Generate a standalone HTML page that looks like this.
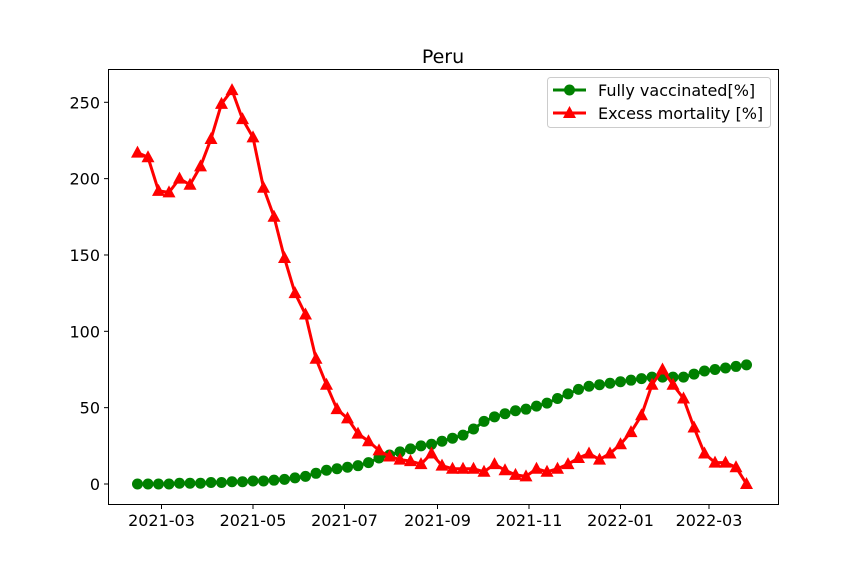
<!DOCTYPE html>
<html><head><meta charset="utf-8"><style>
html,body{margin:0;padding:0;background:#fff;}
svg{display:block;font-family:"DejaVu Sans","Liberation Sans",sans-serif;}
</style></head><body>
<svg id="chart" width="864" height="576">
<rect width="864" height="576" fill="#fff"/>
<text x="443" y="63" font-size="19" text-anchor="middle">Peru</text>
<g id="grid"></g>
<g id="series"></g>
<rect x="108.5" y="69.5" width="670" height="435" fill="none" stroke="#000" stroke-width="1"/>
<g>
<rect x="547.5" y="77.5" width="223" height="50" rx="3" fill="#fff" stroke="#ccc"/>
<g>
<line x1="553" y1="90" x2="586" y2="90" stroke="green" stroke-width="3"/>
<circle cx="569.5" cy="90" r="5.5" fill="green"/>
<text x="598" y="96" font-size="16">Fully vaccinated[%]</text></g>
<g>
<line x1="553" y1="113" x2="586" y2="113" stroke="red" stroke-width="3"/>
<polygon points="569.5,106 576,118 563,118" fill="red"/>
<text x="598" y="119" font-size="16">Excess mortality [%]</text></g>
</g>
</svg>
<script>
const vaccinated = [0,0,0,0,0.5,0.5,0.5,1,1,1.5,1.5,2,2,2.5,3,4,5,7,9,10,11,12,14,17,19,21,23,25,26,28,30,32,36,41,44,46,48,49,51,53,56,59,62,64,65,66,67,68,69,70,70,70,70,72,74,75,76,77,78];
const mortality = [217,214,192,191,200,196,208,226,249,258,239,227,194,175,148,125,111,82,65,49,43,33,28,22,18,16,15,13,20,12,10,10,10,8,13,9,6,5,10,8,10,13,17,20,16,20,26,34,45,65,75,65,56,37,20,14,14,11,0];
const yTicks = [0,50,100,150,200,250];
const xTickLabels = ["2021-03","2021-05","2021-07","2021-09","2021-11","2022-01","2022-03"];
const xTickDays = [0,61,122,184,245,306,365];
const firstDay = -16;
const stepDays = 7;

const NS="http://www.w3.org/2000/svg";
function X(day){return 161.5 + day*1.5;}
function Y(v){return 484 - v*1.5268;}
function mk(tag,attrs,parent){const e=document.createElementNS(NS,tag);for(const k in attrs)e.setAttribute(k,attrs[k]);parent.appendChild(e);return e;}
const grid=document.getElementById('grid');
const ser=document.getElementById('series');
yTicks.forEach(v=>{
  const g=mk('g',{},grid);
  
  
  mk('line',{x1:104,x2:108.5,y1:Y(v),y2:Y(v),stroke:'#000'},g);
  const t=mk('text',{x:100,y:Y(v)+6,'font-size':16,'text-anchor':'end'},g);t.textContent=v;
});
xTickDays.forEach((d,i)=>{
  const g=mk('g',{},grid);
  
  
  mk('line',{x1:X(d),x2:X(d),y1:504.5,y2:509,stroke:'#000'},g);
  const t=mk('text',{x:X(d),y:526,'font-size':16,'text-anchor':'middle'},g);t.textContent=xTickLabels[i];
});
function series(vals,color,marker,name){
  const g=mk('g',{},ser);
  
  
  const pts=vals.map((v,i)=>[X(firstDay+i*stepDays),Y(v)]);
  mk('polyline',{points:pts.map(p=>p.join(',')).join(' '),fill:'none',stroke:color,'stroke-width':3,'stroke-linejoin':'round'},g);
  pts.forEach(p=>{
    let m;
    if(marker==='c') m=mk('circle',{cx:p[0],cy:p[1],r:5.5,fill:color},g);
    else m=mk('polygon',{points:`${p[0]},${p[1]-7} ${p[0]+6.5},${p[1]+5} ${p[0]-6.5},${p[1]+5}`,fill:color},g);
    
    
  });
}
series(vaccinated,'green','c','vaccinated-series');
series(mortality,'red','t','mortality-series');
</script>
</body></html>
